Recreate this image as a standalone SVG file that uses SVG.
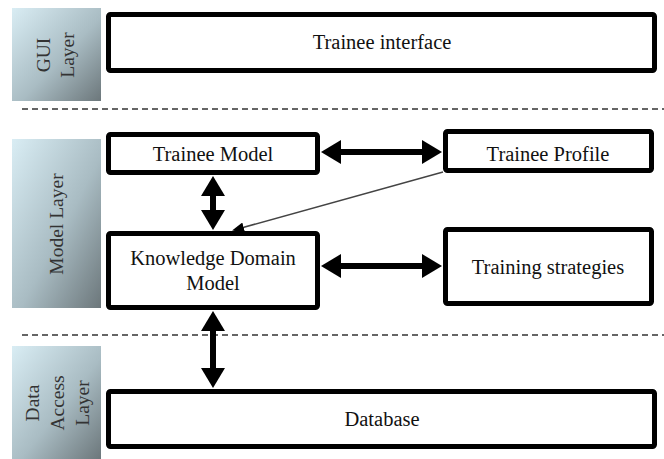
<svg xmlns="http://www.w3.org/2000/svg" width="664" height="459" viewBox="0 0 664 459">
  <style>
    .box { fill: #ffffff; stroke: #000000; stroke-width: 5; }
    .label { font-family: "Liberation Serif", "Times New Roman", serif; font-size: 20.5px; fill: #111111; text-anchor: middle; }
    .layer { fill: url(#layerFill); }
    .layer-text { font-family: "Liberation Serif", "Times New Roman", serif; font-size: 19.5px; fill: #333333; text-anchor: middle; }
    .divider { stroke: #333333; stroke-width: 1.5; stroke-dasharray: 6 4; fill: none; }
    .thick { stroke: #000000; stroke-width: 6; fill: none; }
    .thin { stroke: #444444; stroke-width: 1.5; fill: none; }
  </style>
  <defs>
    <linearGradient id="layerFill" x1="0" y1="0" x2="1" y2="1">
      <stop offset="0" stop-color="#d9edf4"/>
      <stop offset="0.55" stop-color="#a9bcc3"/>
      <stop offset="1" stop-color="#6c777b"/>
    </linearGradient>
    <marker id="bigHead" markerUnits="userSpaceOnUse" markerWidth="20" markerHeight="24" refX="8" refY="12" orient="auto-start-reverse">
      <path d="M0,0 L20,12 L0,24 Z" fill="#000000"/>
    </marker>
    <marker id="smallHead" markerUnits="userSpaceOnUse" markerWidth="12" markerHeight="10" refX="10" refY="5" orient="auto">
      <path d="M0,0 L12,5 L0,10 Z" fill="#000000"/>
    </marker>
  </defs>

  <!-- layer panels -->
  <g id="gui-layer">
    <rect class="layer" x="12" y="8" width="89" height="93"/>
    <text class="layer-text" transform="translate(50,55) rotate(-90)">GUI</text>
    <text class="layer-text" transform="translate(74,55) rotate(-90)">Layer</text>
  </g>
  <g id="model-layer">
    <rect class="layer" x="12" y="139" width="89" height="169"/>
    <text class="layer-text" transform="translate(63,224) rotate(-90)">Model Layer</text>
  </g>
  <g id="data-access-layer">
    <rect class="layer" x="12" y="346" width="89" height="113"/>
    <text class="layer-text" transform="translate(39,403) rotate(-90)">Data</text>
    <text class="layer-text" transform="translate(64,403) rotate(-90)">Access</text>
    <text class="layer-text" transform="translate(89,403) rotate(-90)">Layer</text>
  </g>

  <!-- layer dividers -->
  <line class="divider" x1="22" y1="109" x2="664" y2="109"/>
  <line class="divider" x1="22" y1="335" x2="664" y2="335"/>

  <!-- nodes -->
  <g id="trainee-interface">
    <rect class="box" x="108.5" y="14.5" width="546" height="56" rx="2"/>
    <text class="label" x="382" y="49">Trainee interface</text>
  </g>
  <g id="trainee-model">
    <rect class="box" x="108.5" y="134.5" width="209" height="38" rx="2"/>
    <text class="label" x="213" y="161">Trainee Model</text>
  </g>
  <g id="knowledge-domain-model">
    <rect class="box" x="108.5" y="233.5" width="209" height="74" rx="2"/>
    <text class="label" x="213" y="265">Knowledge Domain</text>
    <text class="label" x="213" y="290">Model</text>
  </g>
  <g id="trainee-profile">
    <rect class="box" x="445.5" y="131.5" width="206" height="39" rx="2"/>
    <text class="label" x="548" y="161">Trainee Profile</text>
  </g>
  <g id="training-strategies">
    <rect class="box" x="445.5" y="229.5" width="206" height="74" rx="2"/>
    <text class="label" x="548" y="274">Training strategies</text>
  </g>
  <g id="database">
    <rect class="box" x="108.5" y="391.5" width="546" height="55" rx="2"/>
    <text class="label" x="382" y="426">Database</text>
  </g>

  <!-- connectors -->
  <g id="connectors">
    <line class="thick" x1="333" y1="152" x2="430" y2="152" marker-start="url(#bigHead)" marker-end="url(#bigHead)"/>
    <line class="thick" x1="333" y1="266" x2="430" y2="266" marker-start="url(#bigHead)" marker-end="url(#bigHead)"/>
    <line class="thick" x1="213" y1="188" x2="213" y2="218" marker-start="url(#bigHead)" marker-end="url(#bigHead)"/>
    <line class="thick" x1="213" y1="323" x2="213" y2="376" marker-start="url(#bigHead)" marker-end="url(#bigHead)"/>
    <line class="thin" x1="443" y1="172" x2="234" y2="230" marker-end="url(#smallHead)"/>
  </g>
</svg>
